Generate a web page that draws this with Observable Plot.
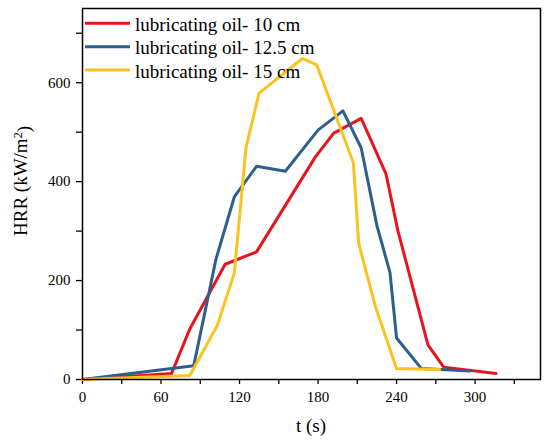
<!DOCTYPE html>
<html><head><meta charset="utf-8">
<script src="https://cdn.jsdelivr.net/npm/d3@7"></script>
<script src="https://cdn.jsdelivr.net/npm/@observablehq/plot@0.6"></script>
<style>
body{margin:0;background:#fff}
svg, svg text, svg tspan{font-family:"Liberation Serif","DejaVu Serif",serif !important;}
svg text{fill:black}
</style>
</head><body><div id="chart"></div>
<script>
const seriesNames = ["lubricating oil- 10 cm", "lubricating oil- 12.5 cm", "lubricating oil- 15 cm"];
const seriesColors = ["#e8141c", "#2e5e8e", "#fcc21e"];
const t10 = [0, 68, 82, 109, 133, 178, 192, 213, 232, 241, 264, 276, 316];
const hrr10 = [0, 12, 102, 233, 258, 450, 498, 528, 415, 301, 70, 25, 12];
const t125 = [0, 85, 102, 116, 133, 155, 180, 199, 213, 225, 235, 240, 259, 296];
const hrr125 = [0, 28, 243, 369, 431, 421, 504, 543, 468, 311, 216, 84, 22, 17];
const t15 = [0, 82, 103, 116, 125, 135, 168, 179, 207, 211, 224, 240, 273];
const hrr15 = [0, 8, 109, 215, 470, 579, 649, 636, 438, 276, 146, 22, 20];
const xTicks = [0, 30, 60, 90, 120, 150, 180, 210, 240, 270, 300, 330];
const yTicks = [0, 100, 200, 300, 400, 500, 600, 700];

const allT = [t10, t125, t15];
const allH = [hrr10, hrr125, hrr15];
const rows = [];
allT.forEach((ts, i) => ts.forEach((t, j) => rows.push({series: seriesNames[i], t, hrr: allH[i][j]})));

const fam = "Liberation Serif";
const chart = Plot.plot({
  width: 550, height: 443,
  marginLeft: 82, marginRight: 10, marginTop: 8, marginBottom: 64,
  style: {fontFamily: fam, fontSize: "15px", color: "black", background: "white"},
  x: {domain: [0, 350]},
  y: {domain: [0, 750]},
  color: {domain: seriesNames, range: seriesColors},
  marks: [
    Plot.axisX({ticks: xTicks, tickSize: 5, tickPadding: 7, strokeWidth: 1.3, fontSize: 15, tickFormat: d => d % 60 === 0 ? String(d) : "", label: null}),
    Plot.axisY({ticks: yTicks, tickSize: 6, tickPadding: 6, strokeWidth: 1.3, fontSize: 15, tickFormat: d => d % 200 === 0 ? String(d) : "", label: null}),
    Plot.line(rows, {x: "t", y: "hrr", z: "series", stroke: "series", strokeWidth: 3, strokeLinejoin: "round"}),
    Plot.frame({stroke: "black", strokeWidth: 1.5})
  ]
});
document.getElementById("chart").appendChild(chart);

const svg = d3.select(chart);
svg.selectAll("text").attr("font-family", fam);
// axis labels
const yl = svg.append("text")
  .attr("transform", "translate(27,181) rotate(-90)")
  .attr("text-anchor", "middle").attr("font-family", fam)
  .attr("font-size", 19);
yl.append("tspan").text("HRR (kW/m");
yl.append("tspan").text("2").attr("dy", "-0.45em").attr("font-size", 12);
yl.append("tspan").text(")").attr("dy", "0.45em");

svg.append("text").attr("x", 311).attr("y", 432).attr("text-anchor", "middle")
  .attr("font-family", fam).attr("font-size", 19).text("t (s)");

// legend
const lg = svg.append("g");
seriesNames.forEach((name, i) => {
  const yy = 23.3 + i * 23.4;
  lg.append("line").attr("x1", 85).attr("x2", 130).attr("y1", yy).attr("y2", yy)
    .attr("stroke", seriesColors[i]).attr("stroke-width", 3);
  lg.append("text").attr("x", 135).attr("y", yy + 7.4).attr("text-anchor", "start")
    .attr("font-family", fam).attr("font-size", 19).text(name);
});
</script>
</body></html>
